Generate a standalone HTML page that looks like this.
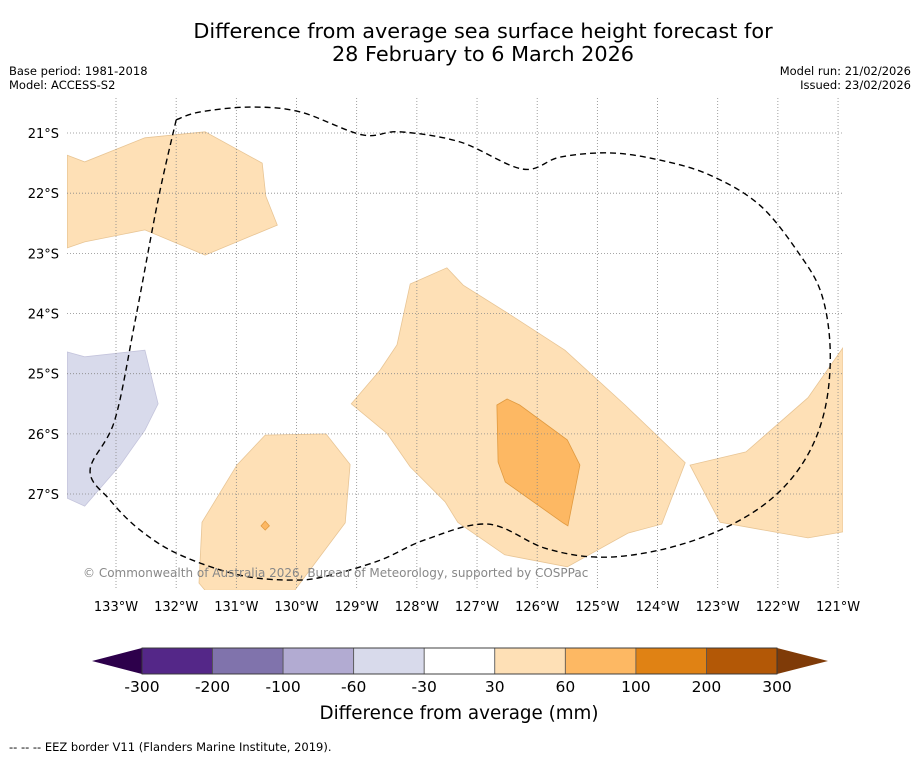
<!DOCTYPE html>
<html><head><meta charset="utf-8"><style>
body{margin:0;background:#fff;font-family:"Liberation Sans","DejaVu Sans",sans-serif;}
svg text{font-family:"DejaVu Sans","Liberation Sans",sans-serif;}
</style></head><body>
<svg id="c" width="919" height="758" xmlns="http://www.w3.org/2000/svg">
<rect width="919" height="758" fill="#fff"/>
<text x="483" y="38" font-size="20.8" text-anchor="middle">Difference from average sea surface height forecast for</text>
<text x="483" y="61" font-size="20.8" text-anchor="middle">28 February to 6 March 2026</text>
<text x="9" y="75" font-size="11.5">Base period: 1981-2018</text>
<text x="9" y="89" font-size="11.5">Model: ACCESS-S2</text>
<text x="911" y="75" font-size="11.5" text-anchor="end">Model run: 21/02/2026</text>
<text x="911" y="89" font-size="11.5" text-anchor="end">Issued: 23/02/2026</text>
<defs><clipPath id="mc"><rect x="67" y="98" width="776" height="492"/></clipPath></defs>
<g id="map" clip-path="url(#mc)"></g>
<g id="grid"></g>
<g id="eez" clip-path="url(#mc)"></g>
<g id="axes"></g>
<text x="83" y="577" font-size="12" fill="#888">© Commonwealth of Australia 2026, Bureau of Meteorology, supported by COSPPac</text>
<g id="cbar"></g>
<text x="459" y="719" font-size="18.3" text-anchor="middle">Difference from average (mm)</text>
<text x="9" y="751" font-size="11.5">--  --  -- EEZ border V11 (Flanders Marine Institute, 2019).</text>
</svg>
<script>
const lonTicks=[133,132,131,130,129,128,127,126,125,124,123,122,121];
const latTicks=[21,22,23,24,25,26,27];
const levels=[-300,-200,-100,-60,-30,30,60,100,200,300];
const levelColors=["#542788","#8073ac","#b2abd2","#d8daeb","#ffffff","#fee0b6","#fdb863","#e08214","#b35806"];
const lowColor="#2d004b",highColor="#7f3b08";
const polyTopLeft=[[133.81,21.37],[133.52,21.48],[132.52,21.08],[131.52,20.98],[130.57,21.5],[130.51,22.05],[130.32,22.53],[131.52,23.03],[132.52,22.61],[133.52,22.81],[133.81,22.91]];
const polyPurple=[[133.81,24.64],[133.52,24.72],[132.52,24.61],[132.3,25.5],[132.52,25.94],[132.93,26.52],[133.52,27.2],[133.81,27.07]];
const polyBottomLeft=[[130.52,26.02],[129.51,26.0],[129.11,26.51],[129.19,27.48],[130.03,28.6],[131.52,28.6],[131.62,28.48],[131.57,27.47],[130.99,26.52]];
const polyCentral=[[128.11,23.51],[127.5,23.24],[127.23,23.53],[126.45,24.02],[125.54,24.61],[124.54,25.52],[123.54,26.48],[123.93,27.5],[124.49,27.65],[125.5,28.21],[126.54,28.01],[127.32,27.47],[127.53,27.13],[128.11,26.55],[128.5,25.99],[129.09,25.5],[128.61,24.94],[128.33,24.52]];
const polyCore=[[126.67,25.52],[126.5,25.42],[126.29,25.52],[125.5,26.1],[125.29,26.52],[125.49,27.53],[125.57,27.48],[126.53,26.8],[126.65,26.47]];
const polyRight=[[123.46,26.52],[122.53,26.3],[121.5,25.4],[120.92,24.57],[120.92,27.63],[121.5,27.73],[122.96,27.47]];
const polyDot=[[130.52,27.6],[130.45,27.53],[130.52,27.45],[130.59,27.53]];
const eezPath=[[132.0,20.78],[131.6,20.65],[130.77,20.57],[129.94,20.65],[128.91,21.03],[128.28,20.98],[127.28,21.15],[126.24,21.6],[125.62,21.4],[124.79,21.33],[123.96,21.45],[123.13,21.7],[122.3,22.2],[121.63,23.03],[121.27,23.69],[121.13,24.61],[121.22,25.6],[121.55,26.43],[122.13,27.1],[122.96,27.6],[123.96,27.93],[124.96,28.05],[125.87,27.9],[126.82,27.5],[127.86,27.76],[128.61,28.1],[129.44,28.35],[130.03,28.43],[130.94,28.35],[131.94,28.01],[132.6,27.6],[133.1,27.1],[133.43,26.6],[133.02,25.77],[132.68,24.11],[132.3,22.11],[132.0,20.78]];
const NS="http://www.w3.org/2000/svg";
const K=60.17;
function xs(lon){return 116+(133-lon)*K;}
function ys(lat){return 133+(lat-21)*K;}
function mk(tag,attrs,parent){const e=document.createElementNS(NS,tag);for(const k in attrs)e.setAttribute(k,attrs[k]);parent.appendChild(e);return e;}
function pts(p){return p.map(q=>xs(q[0]).toFixed(1)+","+ys(q[1]).toFixed(1)).join(" ");}
function smooth(p){const P=p.map(q=>[xs(q[0]),ys(q[1])]);let d="M"+P[0][0].toFixed(1)+","+P[0][1].toFixed(1);
for(let i=0;i<P.length-1;i++){const p0=P[Math.max(i-1,0)],p1=P[i],p2=P[i+1],p3=P[Math.min(i+2,P.length-1)];
const c1=[p1[0]+(p2[0]-p0[0])/6,p1[1]+(p2[1]-p0[1])/6],c2=[p2[0]-(p3[0]-p1[0])/6,p2[1]-(p3[1]-p1[1])/6];
d+=` C${c1[0].toFixed(1)},${c1[1].toFixed(1)} ${c2[0].toFixed(1)},${c2[1].toFixed(1)} ${p2[0].toFixed(1)},${p2[1].toFixed(1)}`;}return d;}
const map=document.getElementById('map');
const polys=[[polyTopLeft,levelColors[5],"#e8c595","contour-top-left"],[polyPurple,levelColors[3],"#c4c4dc","contour-negative-west"],[polyBottomLeft,levelColors[5],"#e8c595","contour-bottom-left"],[polyCentral,levelColors[5],"#e8c595","contour-central"],[polyCore,levelColors[6],"#e09a40","contour-central-core"],[polyRight,levelColors[5],"#e8c595","contour-right"],[polyDot,levelColors[6],"#e09a40","contour-small-spot"]];
polys.forEach(p=>{const e=mk('polygon',{points:pts(p[0]),fill:p[1],stroke:p[2],'stroke-width':0.8},map);

});
const grid=document.getElementById('grid'),axes=document.getElementById('axes');
lonTicks.forEach(l=>{const x=xs(l);mk('line',{x1:x,x2:x,y1:98,y2:590,stroke:'#888','stroke-width':0.8,'stroke-dasharray':'1,2'},grid);
const t=mk('text',{x:x,y:611,'font-size':13,'text-anchor':'middle'},axes);t.textContent=l+'°W';

});
latTicks.forEach(l=>{const y=ys(l);mk('line',{x1:67,x2:843,y1:y,y2:y,stroke:'#888','stroke-width':0.8,'stroke-dasharray':'1,2'},grid);
const t=mk('text',{x:59,y:y+5,'font-size':13,'text-anchor':'end'},axes);t.textContent=l+'°S';

});
const eez=document.getElementById('eez');
const pl=mk('path',{d:smooth(eezPath),fill:'none',stroke:'#000','stroke-width':1.4,'stroke-dasharray':'6,4'},eez);


const cb=document.getElementById('cbar');
const cx0=142,cx1=777,cy0=648,cy1=674,n=levelColors.length,w=(cx1-cx0)/n;
mk('polygon',{points:`${cx0},${cy0} ${cx0},${cy1} 92,${(cy0+cy1)/2}`,fill:lowColor},cb);
mk('polygon',{points:`${cx1},${cy0} ${cx1},${cy1} 828,${(cy0+cy1)/2}`,fill:highColor},cb);
levelColors.forEach((c,i)=>{const r=mk('rect',{x:cx0+i*w,y:cy0,width:w,height:cy1-cy0,fill:c,stroke:'#555','stroke-width':0.8},cb);

});
mk('rect',{x:cx0,y:cy0,width:cx1-cx0,height:cy1-cy0,fill:'none',stroke:'#333','stroke-width':0.8},cb);
levels.forEach((v,i)=>{const t=mk('text',{x:cx0+i*w,y:692,'font-size':15.5,'text-anchor':'middle'},cb);t.textContent=v;

});
</script>
</body></html>
